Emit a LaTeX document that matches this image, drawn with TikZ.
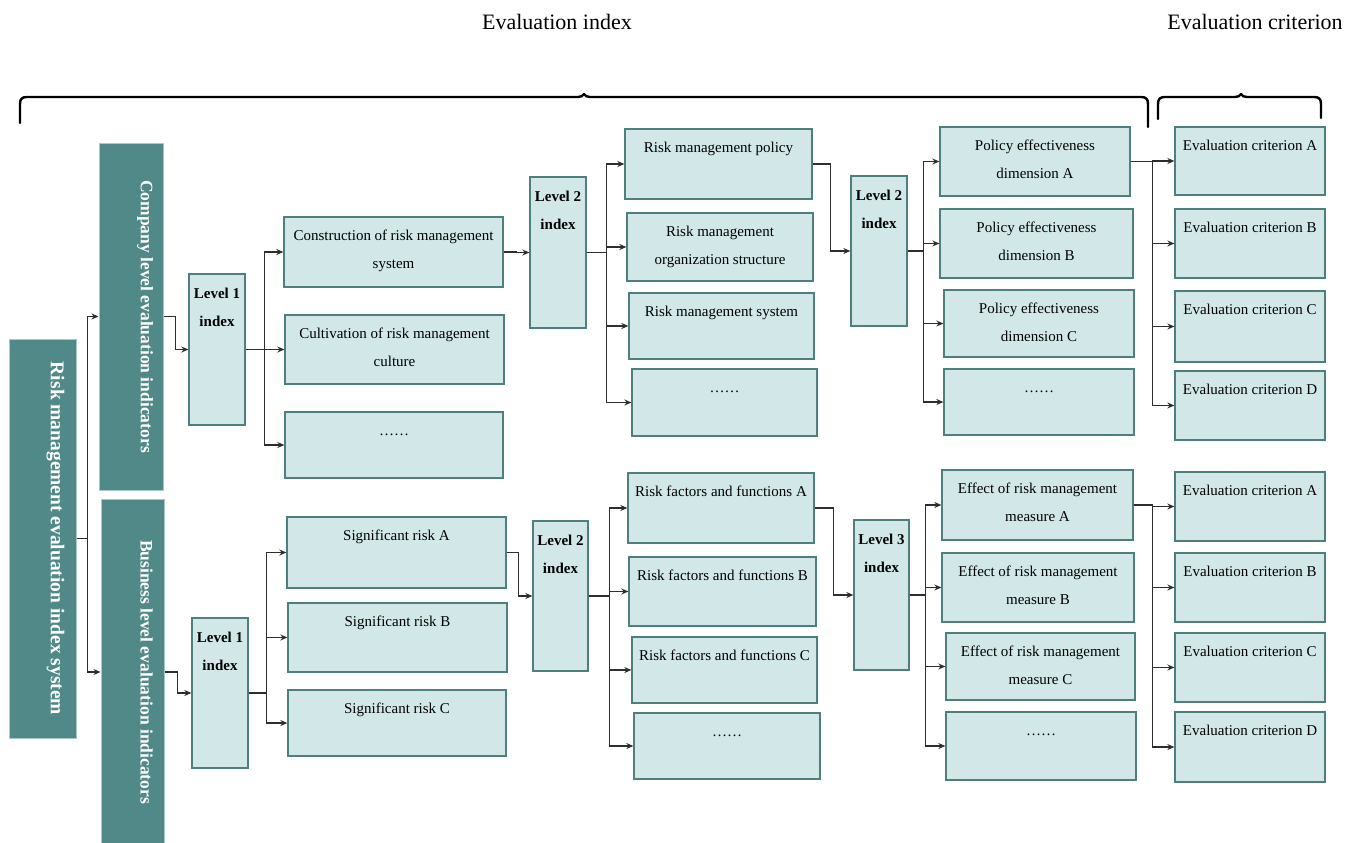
\documentclass[tikz,border=0pt]{standalone}
\usepackage{fontspec}
\setmainfont{Liberation Serif}
\usetikzlibrary{arrows.meta,fit,calc}

\definecolor{tealdark}{HTML}{508987}
\definecolor{tealedge}{HTML}{A3CAC8}
\definecolor{boxfill}{HTML}{D2E8E8}
\definecolor{boxedge}{HTML}{4E7F7D}
\definecolor{linkgray}{HTML}{2E2E2E}

\newcommand\twoline[1]{\parbox[t]{200pt}{\centering #1}}

\tikzset{
  x=1pt, y=-1pt,
  darkbox/.style={fill=tealdark, draw=tealedge, line width=1pt, inner sep=0pt},
  lightbox/.style={fill=boxfill, draw=boxedge, line width=1.3pt, inner sep=0pt},
  boxtext/.style={anchor=base, inner sep=0pt, font=\fontsize{15}{28.5}\selectfont},
  leveltext/.style={anchor=base, inner sep=0pt, font=\fontsize{15}{28.5}\selectfont\bfseries},
  vtext/.style={rotate=-90, inner sep=0pt, text=white, font=\fontsize{17.5}{20}\selectfont\bfseries},
  headtext/.style={inner sep=0pt, font=\fontsize{22}{26}\selectfont},
  link/.style={draw=linkgray, line width=1.5pt, -{Stealth[length=7pt,width=6pt]}},
  brace/.style={draw=black, line width=2.4pt, line cap=round, line join=round}
}

\begin{document}
\begin{tikzpicture}
\useasboundingbox (0,0) rectangle (1353,843);
\fill[white] (0,0) rectangle (1353,843);
\clip (0,0) rectangle (1353,843);

% headings and braces
\node[headtext] (head-index) at (557,22) {Evaluation index};
\node[headtext] (head-crit) at (1255,22) {Evaluation criterion};
\draw[brace] (20,123) -- (20,104) .. controls (20,99) and (22,97) .. (27,97)
  -- (578,97) .. controls (581,97) and (583,96) .. (584,94)
  .. controls (585,96) and (587,97) .. (590,97)
  -- (1141,97) .. controls (1146,97) and (1148,99) .. (1148,104) -- (1148,127);
\draw[brace] (1158,119) -- (1158,104) .. controls (1158,99) and (1160,97) .. (1165,97)
  -- (1235,97) .. controls (1238,97) and (1240,96) .. (1241,94)
  .. controls (1242,96) and (1244,97) .. (1247,97)
  -- (1314,97) .. controls (1319,97) and (1321,99) .. (1321,104) -- (1321,118);

% system, company and business columns
\node[darkbox, fit={(9,339) (76,738)}] (main) {};
\node[darkbox, fit={(99,143) (163,490)}] (comp) {};
\node[darkbox, fit={(101,499) (164,845)}] (bus) {};
\node[vtext, font=\fontsize{19.5}{21}\selectfont\bfseries] (main-t) at ($(main.center)+(13,0)$) {Risk management evaluation index system};
\node[vtext] (comp-t) at ($(comp.center)+(14,0)$) {Company level evaluation indicators};
\node[vtext] (bus-t) at ($(bus.center)+(14,0)$) {Business level evaluation indicators};

% level index boxes
\node[lightbox, fit={(189,274) (245,425)}] (l1c) {};
\node[lightbox, fit={(192,618) (248,768)}] (l1b) {};
\node[lightbox, fit={(530,177) (586,328)}] (l2c) {};
\node[lightbox, fit={(851,176) (907,326)}] (l2r) {};
\node[lightbox, fit={(533,521) (588,671)}] (l2b) {};
\node[lightbox, fit={(854,520) (909,670)}] (l3b) {};
\foreach \n/\t in {l1c/Level 1, l1b/Level 1, l2c/Level 2, l2r/Level 2, l2b/Level 2, l3b/Level 3}
  \node[leveltext] (\n-t) at ($(\n.north)+(0,25)$) {\twoline{\t\\index}};

% company branch
\node[lightbox, fit={(284,217) (503,287)}] (cons) {};
\node[lightbox, fit={(285,315) (504,384)}] (cult) {};
\node[lightbox, fit={(285,412) (503,478)}] (cdots) {};
\node[lightbox, fit={(625,129) (812,199)}] (rmp) {};
\node[lightbox, fit={(627,213) (813,281)}] (rmo) {};
\node[lightbox, fit={(629,293) (814,359)}] (rms) {};
\node[lightbox, fit={(632,369) (817,436)}] (rmd) {};
\node[lightbox, fit={(940,127) (1130,196)}] (pea) {};
\node[lightbox, fit={(940,209) (1133,278)}] (peb) {};
\node[lightbox, fit={(944,290) (1134,357)}] (pec) {};
\node[lightbox, fit={(944,369) (1134,435)}] (ped) {};
\node[lightbox, fit={(1175,127) (1325,195)}] (eca) {};
\node[lightbox, fit={(1175,209) (1325,278)}] (ecb) {};
\node[lightbox, fit={(1175,291) (1325,362)}] (ecc) {};
\node[lightbox, fit={(1175,371) (1325,440)}] (ecd) {};

% business branch
\node[lightbox, fit={(287,517) (506,588)}] (sra) {};
\node[lightbox, fit={(288,603) (507,672)}] (srb) {};
\node[lightbox, fit={(288,690) (506,756)}] (src) {};
\node[lightbox, fit={(628,473) (814,543)}] (rfa) {};
\node[lightbox, fit={(629,557) (816,626)}] (rfb) {};
\node[lightbox, fit={(632,637) (817,703)}] (rfc) {};
\node[lightbox, fit={(634,713) (820,779)}] (rfd) {};
\node[lightbox, fit={(942,470) (1133,540)}] (efa) {};
\node[lightbox, fit={(942,553) (1134,622)}] (efb) {};
\node[lightbox, fit={(946,633) (1135,700)}] (efc) {};
\node[lightbox, fit={(946,712) (1136,780)}] (efd) {};
\node[lightbox, fit={(1175,472) (1325,541)}] (eda) {};
\node[lightbox, fit={(1175,553) (1325,622)}] (edb) {};
\node[lightbox, fit={(1175,633) (1325,702)}] (edc) {};
\node[lightbox, fit={(1175,712) (1325,782)}] (edd) {};

% box captions
\foreach \n/\t in {
  cons/{Construction of risk management\\system},
  cult/{Cultivation of risk management\\culture},
  cdots/{……},
  rmp/{Risk management policy},
  rmo/{Risk management\\organization structure},
  rms/{Risk management system},
  rmd/{……},
  pea/{Policy effectiveness\\dimension A},
  peb/{Policy effectiveness\\dimension B},
  pec/{Policy effectiveness\\dimension C},
  ped/{……},
  eca/{Evaluation criterion A},
  ecb/{Evaluation criterion B},
  ecc/{Evaluation criterion C},
  ecd/{Evaluation criterion D},
  sra/{Significant risk A},
  srb/{Significant risk B},
  src/{Significant risk C},
  rfa/{Risk factors and functions A},
  rfb/{Risk factors and functions B},
  rfc/{Risk factors and functions C},
  rfd/{……},
  efa/{Effect of risk management\\measure A},
  efb/{Effect of risk management\\measure B},
  efc/{Effect of risk management\\measure C},
  efd/{……},
  eda/{Evaluation criterion A},
  edb/{Evaluation criterion B},
  edc/{Evaluation criterion C},
  edd/{Evaluation criterion D}}
  \node[boxtext] (\n-t) at ($(\n.north)+(0,24)$) {\twoline{\t}};

% connectors
\foreach \c in {comp,bus} \draw[link] (main.east) -- ++(11,0) |- (\c.west);
\draw[link] (comp.east) -- ++(12,0) |- (l1c.west);
\draw[link] (bus.east) -- ++(13,0) |- (l1b.west);
\foreach \c in {cons,cult,cdots} \draw[link] (l1c.east) -- ++(19,0) |- (\c.west);
\foreach \c in {sra,srb,src} \draw[link] (l1b.east) -- ++(18,0) |- (\c.west);
\draw[link] (cons.east) -- ++(13,0) |- (l2c.west);
\draw[link] (sra.east) -- ++(12,0) |- (l2b.west);
\foreach \c in {rmp,rmo,rms,rmd} \draw[link] (l2c.east) -- ++(20,0) |- (\c.west);
\foreach \c in {rfa,rfb,rfc,rfd} \draw[link] (l2b.east) -- ++(21,0) |- (\c.west);
\draw[link] (rmp.east) -- ++(18,0) |- (l2r.west);
\draw[link] (rfa.east) -- ++(19,0) |- (l3b.west);
\foreach \c in {pea,peb,pec,ped} \draw[link] (l2r.east) -- ++(16,0) |- (\c.west);
\foreach \c in {efa,efb,efc,efd} \draw[link] (l3b.east) -- ++(16,0) |- (\c.west);
\foreach \c in {eca,ecb,ecc,ecd} \draw[link] (pea.east) -- ++(22,0) |- (\c.west);
\foreach \c in {eda,edb,edc,edd} \draw[link] (efa.east) -- ++(19,0) |- (\c.west);
\end{tikzpicture}
\end{document}
